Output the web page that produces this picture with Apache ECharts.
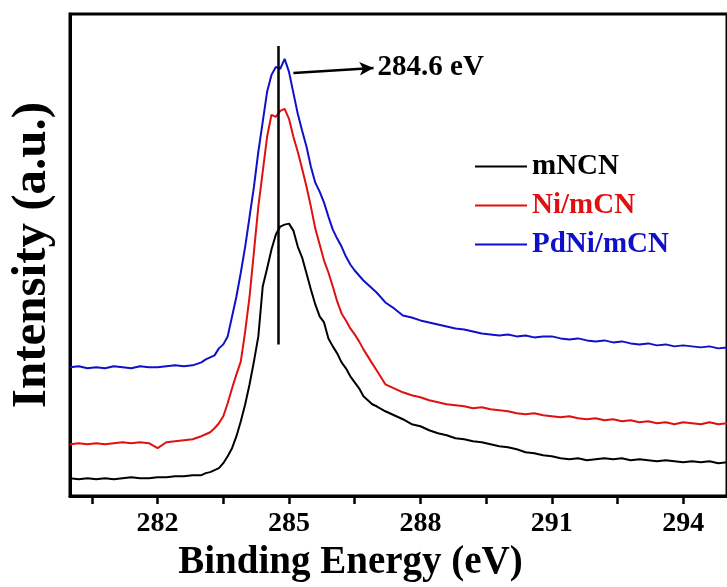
<!DOCTYPE html>
<html>
<head>
<meta charset="utf-8">
<script src="https://cdn.jsdelivr.net/npm/echarts@6/dist/echarts.min.js"></script>
<style>
  html, body { margin: 0; padding: 0; background: #fff; }
  #xps { width: 727px; height: 587px; }
</style>
</head>
<body>
<div id="xps"></div>
<script>
var energies = [
  280.0, 280.2, 280.4, 280.6, 280.8, 281.0, 281.2, 281.4, 281.6, 281.8, 282.0, 282.2, 282.4, 282.6, 282.8, 283.0,
  283.1, 283.2, 283.3, 283.4, 283.5, 283.6, 283.7, 283.8, 283.9, 284.0, 284.1, 284.2, 284.3, 284.4, 284.5, 284.6, 284.7, 284.8, 284.9, 285.0,
  285.1, 285.2, 285.3, 285.4, 285.5, 285.6, 285.7, 285.8, 285.9, 286.0, 286.1, 286.2, 286.3, 286.4, 286.5, 286.6, 286.7, 286.8, 286.9, 287.0,
  287.2, 287.4, 287.6, 287.8, 288.0, 288.2, 288.4, 288.6, 288.8, 289.0, 289.2, 289.4, 289.6, 289.8, 290.0, 290.2, 290.4, 290.6, 290.8, 291.0,
  291.2, 291.4, 291.6, 291.8, 292.0, 292.2, 292.4, 292.6, 292.8, 293.0, 293.2, 293.4, 293.6, 293.8, 294.0, 294.2, 294.4, 294.6, 294.8, 295.0
];
var mNCN = [
  18, 17, 18, 17, 18, 17, 18, 19, 18, 18, 19, 19, 20, 20, 21, 21,
  23, 24, 26, 28, 33, 40, 48, 60, 75, 92, 112, 135, 160, 210, 228, 247, 262, 270, 272, 273,
  266, 250, 239, 223, 207, 192, 180, 174, 158, 150, 143, 134, 128, 120, 114, 108, 100, 96, 92, 90,
  85, 81, 77, 72, 70, 66, 63, 61, 58, 57, 55, 54, 52, 50, 49, 47, 44, 43, 41, 40,
  38, 37, 38, 36, 37, 38, 37, 38, 36, 37, 36, 35, 36, 35, 34, 35, 34, 35, 33, 34
];
var niMCN = [
  52, 53, 52, 53, 52, 53, 54, 53, 54, 53, 48, 54, 55, 56, 57, 60,
  62, 64, 68, 73, 80, 93, 108, 122, 135, 165, 200, 245, 290, 325, 360, 382, 380, 386, 388, 378,
  360, 345, 328, 310, 290, 268, 252, 236, 224, 210, 195, 183, 176, 168, 162, 155, 147, 140, 133, 126,
  112, 108, 104, 101, 99, 96, 94, 92, 91, 90, 88, 89, 87, 86, 85, 83, 82, 83, 81, 80,
  79, 80, 78, 77, 78, 76, 77, 75, 76, 74, 75, 73, 74, 72, 74, 73, 72, 74, 72, 73
];
var pdNiMCN = [
  129, 130, 128, 129, 128, 130, 129, 128, 130, 129, 129, 130, 131, 130, 131, 134,
  137, 139, 141, 148, 152, 160, 180, 200, 224, 250, 280, 310, 345, 375, 405, 422, 430, 428, 438, 425,
  404, 383, 366, 350, 330, 314, 305, 294, 280, 267, 258, 250, 240, 232, 226, 221, 216, 212, 208, 204,
  194, 188, 181, 179, 176, 174, 172, 170, 168, 167, 165, 163, 162, 161, 162, 160, 161, 159, 160, 160,
  158, 157, 158, 156, 155, 156, 154, 155, 153, 152, 153, 151, 152, 150, 151, 150, 149, 150, 148, 149
];
var tickLabels = [282, 285, 288, 291, 294];
var tickMarks = [280.5, 282, 283.5, 285, 286.5, 288, 289.5, 291, 292.5, 294];
var peakLine = [284.75, 152, 451];
var arrowFrom = [285.1, 424];
var arrowTo = [286.93, 429];

var serif = '"Liberation Serif", "Times New Roman", serif';

function pairs(vals) {
  return energies.map(function (e, i) { return [e, vals[i]]; });
}

var xpsChart = echarts.init(document.getElementById('xps'));
var option = {
  animation: false,
  grid: { left: 69, right: -4, top: 14, bottom: 90, show: true, borderColor: '#000', borderWidth: 3 },
  legend: {
    orient: 'vertical',
    left: 470,
    top: 147,
    icon: 'rect',
    itemWidth: 52,
    itemHeight: 2,
    itemGap: 10,
    textStyle: { fontFamily: serif, fontWeight: 'bold', fontSize: 29 },
    data: [
      { name: 'mNCN', textStyle: { color: '#000' } },
      { name: 'Ni/mCN', textStyle: { color: '#e01010' } },
      { name: 'PdNi/mCN', textStyle: { color: '#1010c8' } }
    ]
  },
  xAxis: {
    type: 'value',
    min: 280,
    max: 295,
    name: 'Binding Energy (eV)',
    nameLocation: 'middle',
    nameGap: 44,
    nameTextStyle: { fontFamily: serif, fontWeight: 'bold', fontSize: 39, color: '#000', padding: [0, 96, 0, 0] },
    axisLine: { lineStyle: { color: '#000', width: 3 } },
    axisTick: { show: true, length: 8, customValues: tickMarks, lineStyle: { color: '#000', width: 2.5 } },
    axisLabel: { customValues: tickLabels, margin: 14, fontFamily: serif, fontWeight: 'bold', fontSize: 28, color: '#000' },
    splitLine: { show: false }
  },
  yAxis: {
    type: 'value',
    min: 0,
    max: 483,
    name: 'Intensity (a.u.)',
    nameLocation: 'middle',
    nameGap: 13,
    nameTextStyle: { fontFamily: serif, fontWeight: 'bold', fontSize: 49, color: '#000' },
    axisLine: { show: true, lineStyle: { color: '#000', width: 3 } },
    axisTick: { show: false },
    axisLabel: { show: false },
    splitLine: { show: false }
  },
  series: [
    {
      name: 'mNCN',
      type: 'line',
      symbol: 'none',
      color: '#000',
      lineStyle: { width: 2, color: '#000' },
      data: pairs(mNCN),
      z: 3,
      markLine: {
        silent: true,
        animation: false,
        lineStyle: { color: '#000', width: 2.5, type: 'solid' },
        data: [
          [
            { coord: [peakLine[0], peakLine[1]], symbol: 'none', label: { show: false } },
            { coord: [peakLine[0], peakLine[2]], symbol: 'none' }
          ],
          [
            { coord: arrowFrom, symbol: 'none' },
            {
              coord: arrowTo,
              symbol: 'arrow',
              symbolSize: [10, 14],
              label: {
                show: true,
                position: 'end',
                distance: 4,
                formatter: '284.6 eV',
                fontFamily: serif,
                fontWeight: 'bold',
                fontSize: 29,
                color: '#000'
              }
            }
          ]
        ]
      }
    },
    {
      name: 'Ni/mCN',
      type: 'line',
      symbol: 'none',
      color: '#e01010',
      lineStyle: { width: 2, color: '#e01010' },
      data: pairs(niMCN)
    },
    {
      name: 'PdNi/mCN',
      type: 'line',
      symbol: 'none',
      color: '#1010c8',
      lineStyle: { width: 2, color: '#1010c8' },
      data: pairs(pdNiMCN)
    }
  ]
};
xpsChart.setOption(option);
window.addEventListener('resize', xpsChart.resize);
</script>
</body>
</html>
